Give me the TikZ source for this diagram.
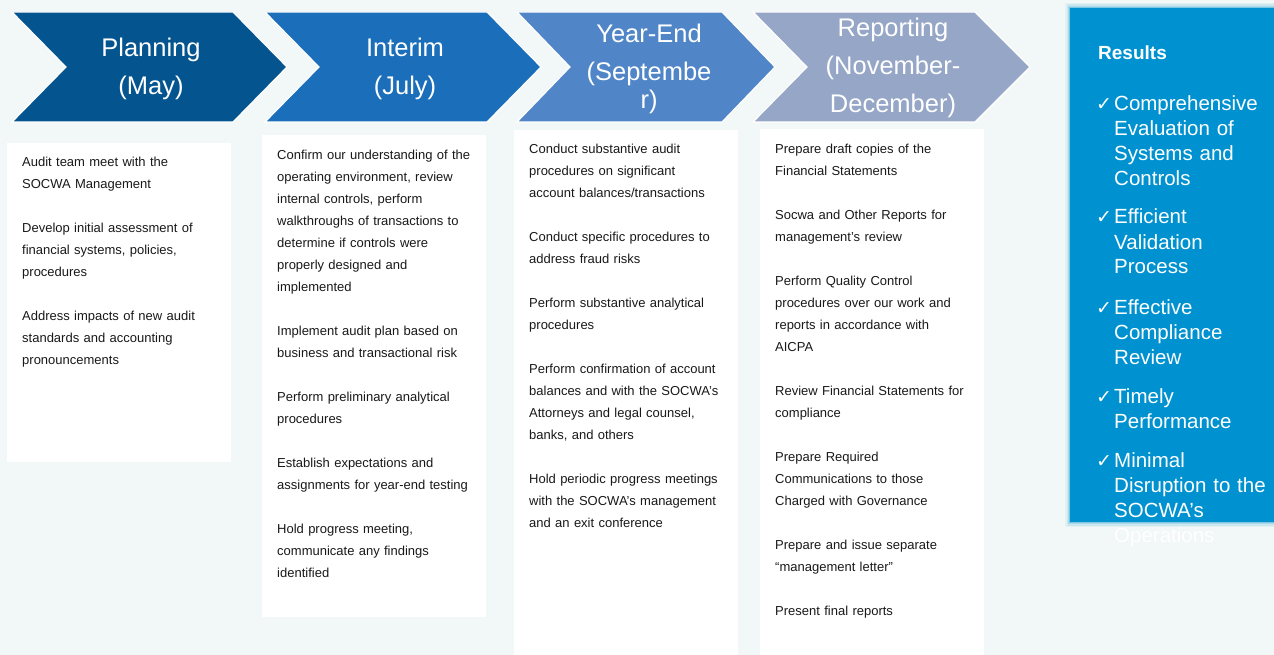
\documentclass[tikz,border=0pt]{standalone}
\usepackage{fontspec}
\setmainfont{Liberation Sans}
\newfontfamily\symfont{DejaVu Sans}

\definecolor{pagebg}{RGB}{242,247,247}
\definecolor{phaseA}{RGB}{4,85,143}
\definecolor{phaseB}{RGB}{27,110,186}
\definecolor{phaseC}{RGB}{80,134,199}
\definecolor{phaseD}{RGB}{149,166,198}
\definecolor{resultblue}{RGB}{0,146,208}
\definecolor{bodyink}{RGB}{25,25,25}

\begin{document}
\begin{tikzpicture}[x=1pt,y=-1pt,
  chevron/.style={draw=white,line width=1.2pt,line join=miter},
  panel/.style={fill=white,draw=none,inner sep=0,anchor=north west},
  bodytext/.style={font=\fontsize{13}{22}\selectfont,text=bodyink,
    text width=220pt,align=left,inner sep=0,anchor=base west},
  phaselabel/.style={font=\fontsize{25.5}{38}\selectfont,text=white,
    text width=200pt,align=center,inner sep=0,anchor=base},
  resultbox/.style={fill=resultblue,draw=none,inner sep=0,anchor=north west},
  checkmark/.style={font=\symfont\fontsize{19}{19}\selectfont,text=white,
    inner sep=0,anchor=base west},
  resulttext/.style={font=\fontsize{20.5}{25}\selectfont,text=white,
    text width=160pt,align=left,inner sep=0,anchor=base west},
]
\useasboundingbox (0,0) rectangle (1274,655);
\fill[pagebg] (0,0) rectangle (1274,655);

% phase chevrons
\foreach \l/\n/\r/\t/\c in {12/66/233/287/phaseA,265/319/487/541/phaseB,
                            517/570/722/775/phaseC,753/807/975/1030/phaseD}
  \filldraw[chevron,fill=\c] (\l,12) -- (\r,12) -- (\t,67) -- (\r,122)
    -- (\l,122) -- (\n,67) -- cycle;

\node[phaselabel] (lab1) at (151,57) {Planning\\(May)};
\node[phaselabel] (lab2) at (405,57) {Interim\\(July)};
\node[phaselabel] (lab3) at (649,43) {Year-End\\(Septembe\\[-10pt]r)};
\node[phaselabel] (lab4) at (893,37) {Reporting\\(November-\\December)};

% task panels
\node[panel,minimum width=224pt,minimum height=319pt] (box1) at (7,143) {};
\node[panel,minimum width=224pt,minimum height=482pt] (box2) at (262,135) {};
\node[panel,minimum width=224pt,minimum height=540pt] (box3) at (514,130) {};
\node[panel,minimum width=224pt,minimum height=540pt] (box4) at (760,129) {};

\node[bodytext] (txt1) at (22,167) {Audit team meet with the\\SOCWA Management\\[22pt]
Develop initial assessment of\\financial systems, policies,\\procedures\\[22pt]
Address impacts of new audit\\standards and accounting\\pronouncements};

\node[bodytext] (txt2) at (277,160) {Confirm our understanding of the\\operating environment, review\\
internal controls, perform\\walkthroughs of transactions to\\determine if controls were\\
properly designed and\\implemented\\[22pt]
Implement audit plan based on\\business and transactional risk\\[22pt]
Perform preliminary analytical\\procedures\\[22pt]
Establish expectations and\\assignments for year-end testing\\[22pt]
Hold progress meeting,\\communicate any findings\\identified};

\node[bodytext] (txt3) at (529,154) {Conduct substantive audit\\procedures on significant\\
account balances/transactions\\[22pt]
Conduct specific procedures to\\address fraud risks\\[22pt]
Perform substantive analytical\\procedures\\[22pt]
Perform confirmation of account\\balances and with the SOCWA’s\\Attorneys and legal counsel,\\
banks, and others\\[22pt]
Hold periodic progress meetings\\with the SOCWA’s management\\and an exit conference};

\node[bodytext] (txt4) at (775,154) {Prepare draft copies of the\\Financial Statements\\[22pt]
Socwa and Other Reports for\\management’s review\\[22pt]
Perform Quality Control\\procedures over our work and\\reports in accordance with\\AICPA\\[22pt]
Review Financial Statements for\\compliance\\[22pt]
Prepare Required\\Communications to those\\Charged with Governance\\[22pt]
Prepare and issue separate\\“management letter”\\[22pt]
Present final reports};

% results panel with a soft edge
\foreach \g/\o in {5/0.06,3.5/0.1,2/0.16,1/0.25}
  \fill[resultblue,opacity=\o] (1070-\g,8-\g) rectangle (1280,522+\g);
\node[resultbox,minimum width=210pt,minimum height=514pt] (resbox) at (1070,8) {};

\node[anchor=base west,inner sep=0,text=white,font=\bfseries\fontsize{19}{23}\selectfont]
  (reshead) at (1098,60) {Results};

% result entries
\foreach \y/\name/\body in {
    111/resA/{Comprehensive\\Evaluation of\\Systems and\\Controls},
    224/resB/{Efficient\\Validation\\Process},
    314/resC/{Effective\\Compliance\\Review},
    403/resD/{Timely\\Performance},
    467/resE/{Minimal\\Disruption to the\\SOCWA’s\\Operations}} {
  \node[checkmark] (\name-chk) at (1096,\y) {✓};
  \node[resulttext] (\name) at (1114,\y) {\body};
}
\end{tikzpicture}
\end{document}
